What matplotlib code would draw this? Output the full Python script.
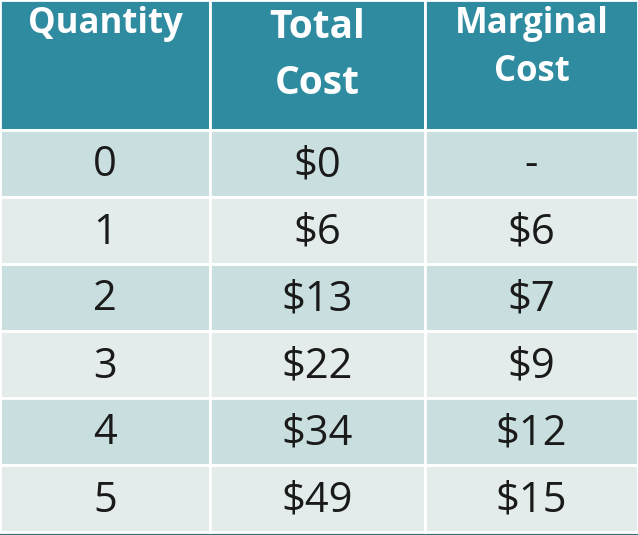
import matplotlib.pyplot as plt
from matplotlib.patches import Rectangle

headers = ["Quantity", "Total\nCost", "Marginal\nCost"]
quantity = ["0", "1", "2", "3", "4", "5"]
total_cost = ["$0", "$6", "$13", "$22", "$34", "$49"]
marginal_cost = ["-", "$6", "$7", "$9", "$12", "$15"]

col_edges = [0, 210, 425, 638]
header_h = 130
row_h = 67

# header text placement per column: (top y, font size, line spacing)
header_style = [(6, 25, 1.2), (8, 28, 1.55), (6, 25, 1.45)]

fig = plt.figure(figsize=(6.38, 5.35), dpi=100)
ax = fig.add_axes([0, 0, 1, 1])
ax.set_xlim(0, 638)
ax.set_ylim(535, 0)
ax.axis('off')
fig.patch.set_facecolor('#3a6f7c')

row_colors = ['#c9dedf', '#e3ebeb']
columns = [quantity, total_cost, marginal_cost]

for c in range(3):
    x0, x1 = col_edges[c], col_edges[c + 1]
    ax.add_patch(Rectangle((x0, 0), x1 - x0, header_h, facecolor='#2f8ba0',
                           edgecolor='white', linewidth=2))
    ty, fs, ls = header_style[c]
    ax.text((x0 + x1) / 2, ty, headers[c], ha='center', va='top',
            color='white', fontsize=fs, fontweight='bold', family='Open Sans',
            linespacing=ls)
    for r, val in enumerate(columns[c]):
        y0 = header_h + r * row_h
        ax.add_patch(Rectangle((x0, y0), x1 - x0, row_h, facecolor=row_colors[r % 2],
                               edgecolor='white', linewidth=2))
        ax.text((x0 + x1) / 2, y0 + row_h / 2 + 2, val, ha='center', va='center',
                color='#1a1a1a', fontsize=30, family='Open Sans')

fig.savefig('out.png', dpi=100)
